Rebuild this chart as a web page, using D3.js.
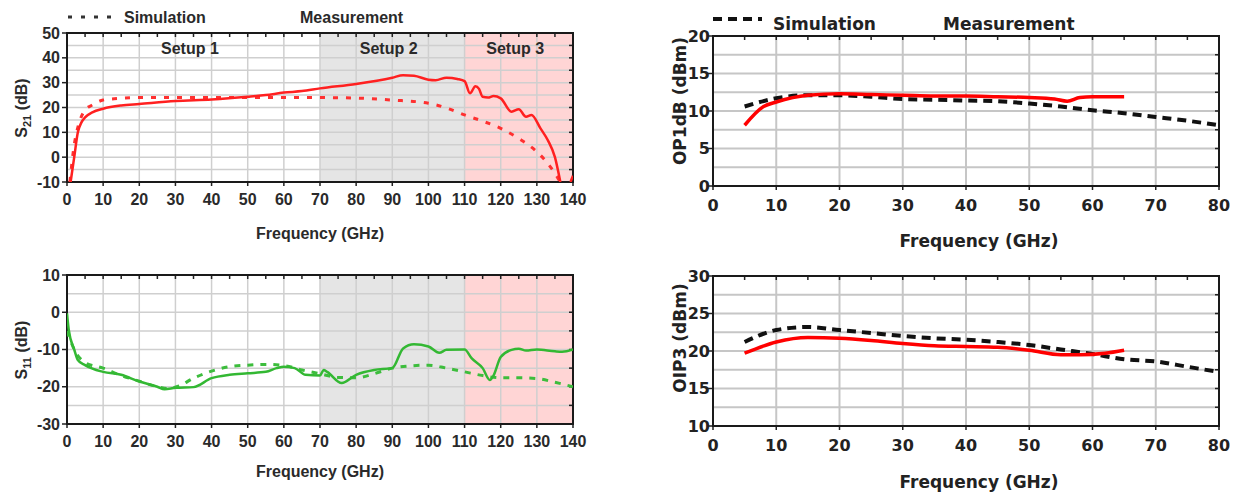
<!DOCTYPE html>
<html>
<head>
<meta charset="utf-8">
<script src="https://cdn.jsdelivr.net/npm/d3@7"></script>
<style>
body { margin: 0; background: #fff; }
.lf text { font-family: "Liberation Sans", Arial, sans-serif; font-weight: bold; fill: #2a2a2a; }
.rt text { font-family: "DejaVu Sans", Verdana, sans-serif; font-weight: bold; fill: #222; }
</style>
</head>
<body>
<svg id="chart" width="1242" height="493"></svg>
<script>
// ---- data ----
var leftFreqTicks = [0, 10, 20, 30, 40, 50, 60, 70, 80, 90, 100, 110, 120, 130, 140];
var rightFreqTicks = [0, 10, 20, 30, 40, 50, 60, 70, 80];
var s21Ticks = [-10, 0, 10, 20, 30, 40, 50];
var s11Ticks = [-30, -20, -10, 0, 10];
var op1Ticks = [0, 5, 10, 15, 20];
var oip3Ticks = [10, 15, 20, 25, 30];

var setupNames = ["Setup 1", "Setup 2", "Setup 3"];
var setupCentres = [34, 89, 124];
var setupBands = [[70, 110], [110, 140]];

// [GHz, dB]
var s21Meas = [[1,-10],[2,0],[3,10],[4,14],[5,16],[7,18],[10,19.5],[15,20.8],[20,21.4],[30,22.6],[40,23.2],
  [50,24.3],[55,25],[60,26],[65,26.6],[70,27.7],[80,29.5],[90,32],[93,33],[96,32.8],[100,31.2],[102,31],
  [105,32],[108,31.5],[110,30.6],[111.5,25.7],[113,28.6],[114,27.5],[115,24.3],[116.5,24],[118,24.6],
  [120,23.7],[123,18.3],[125,19.3],[127,16.3],[128.5,17],[131,11.6],[133,6.9],[135,0],[136.5,-10]];
var s21MeasEdge = [[139.3,-10],[140,-7.5]];
var s21Sim = [[0.8,-10],[2,5],[3,12],[5,19],[7,21],[10,23],[15,23.7],[20,24],[40,24],[60,24],[70,24],
  [80,23.8],[90,23],[100,21.7],[105,19.8],[110,17],[115,14.5],[120,11.6],[125,7.5],[130,2.2],[133,-2.5],
  [135,-6.5],[136.5,-10]];

var s11Meas = [[0,-0.3],[0.5,-4.8],[2,-10],[3,-12.8],[5,-14.2],[10,-16],[15,-16.8],[20,-18.6],[25,-20],
  [27,-20.7],[30,-20.3],[35,-20.1],[40,-17.7],[45,-16.8],[50,-16.4],[55,-16],[58,-15],[60,-14.6],[63,-15],
  [66,-16.8],[70,-17],[71,-15.5],[72,-16],[76,-19],[80,-16.8],[85,-15.5],[90,-15],[93,-9.7],[96,-8.6],
  [100,-9.2],[103,-10.9],[105,-10.1],[110,-10],[112,-12.4],[115,-15],[117,-18.2],[118,-17],[120,-12],
  [123,-10.1],[125,-9.8],[127,-10.3],[130,-10],[135,-10.5],[137,-10.6],[140,-10]];
var s11Sim = [[0,-5],[2,-10],[5,-13.5],[10,-15],[15,-17],[20,-18.5],[25,-20],[28,-20.5],[31,-19.8],
  [35,-17.7],[40,-15.8],[45,-14.6],[50,-14.2],[55,-14],[60,-14.3],[65,-15.5],[70,-16.5],[75,-17.5],
  [80,-17.6],[85,-16.5],[90,-15],[95,-14.4],[100,-14.2],[105,-15],[110,-16],[115,-17],[120,-17.6],
  [125,-17.6],[130,-17.8],[135,-18.8],[140,-20]];

// [GHz, dBm]
var op1Meas = [[5,8.1],[8,10.6],[10,11.2],[15,12.1],[20,12.3],[25,12.2],[30,12.1],[35,12],[40,12],
  [45,11.9],[50,11.8],[54,11.6],[56,11.3],[58,11.8],[60,11.9],[65,11.9]];
var op1Sim = [[5,10.6],[10,11.7],[15,12.1],[20,12.1],[25,11.9],[30,11.6],[35,11.5],[40,11.4],[45,11.3],
  [50,11],[55,10.6],[60,10.1],[65,9.7],[70,9.2],[75,8.7],[80,8.1]];
var oip3Meas = [[5,19.7],[10,21.2],[15,21.8],[20,21.7],[25,21.4],[30,21],[35,20.7],[40,20.6],[45,20.5],
  [50,20.1],[55,19.5],[58,19.5],[62,19.7],[65,20.1]];
var oip3Sim = [[5,21.2],[10,22.8],[15,23.2],[20,22.8],[25,22.4],[30,22],[35,21.7],[40,21.5],[45,21.2],
  [50,20.8],[55,20.2],[60,19.6],[65,18.9],[70,18.6],[75,17.9],[80,17.2]];

var svg = d3.select("#chart");
var clipId = 0;

// draw one framed panel, returns the scales
function panel(o) {
  var x = d3.scaleLinear().domain(o.xDomain).range([o.left, o.right]);
  var y = d3.scaleLinear().domain(o.yDomain).range([o.bottom, o.top]);
  var g = svg.append("g").attr("class", o.cls);

  (o.bands || []).forEach(function(b) {
    g.append("rect")
      .attr("x", x(b[0])).attr("y", o.top)
      .attr("width", x(b[1]) - x(b[0])).attr("height", o.bottom - o.top)
      .attr("fill", b[2]);
  });

  // grid
  var xg = d3.range(o.xDomain[0], o.xDomain[1] + 0.01, o.xGridStep);
  var yg = d3.range(o.yDomain[0], o.yDomain[1] + 0.01, o.yGridStep);
  g.selectAll(".vg").data(xg).enter().append("line")
    .attr("x1", d => x(d)).attr("x2", d => x(d))
    .attr("y1", o.top).attr("y2", o.bottom)
    .attr("stroke", o.gridColor).attr("stroke-width", o.gridWidth);
  g.selectAll(".hg").data(yg).enter().append("line")
    .attr("x1", o.left).attr("x2", o.right)
    .attr("y1", d => y(d)).attr("y2", d => y(d))
    .attr("stroke", o.gridColor).attr("stroke-width", o.gridWidth);

  // small tick marks
  var xm = d3.range(o.xDomain[0], o.xDomain[1] + 0.01, o.xMinor);
  g.selectAll(".tt").data(xm).enter().append("line")
    .attr("x1", d => x(d)).attr("x2", d => x(d))
    .attr("y1", o.top).attr("y2", o.top + 4)
    .attr("stroke", "#222").attr("stroke-width", 1.5);
  g.selectAll(".bt").data(o.xTicks).enter().append("line")
    .attr("x1", d => x(d)).attr("x2", d => x(d))
    .attr("y1", o.bottom).attr("y2", o.bottom + 4)
    .attr("stroke", "#222").attr("stroke-width", 1.5);
  g.selectAll(".lt").data(o.yTicks).enter().append("line")
    .attr("x1", o.left - 5).attr("x2", o.left)
    .attr("y1", d => y(d)).attr("y2", d => y(d))
    .attr("stroke", "#222").attr("stroke-width", 1.5);
  g.selectAll(".rtk").data(yg).enter().append("line")
    .attr("x1", o.right - 4).attr("x2", o.right)
    .attr("y1", d => y(d)).attr("y2", d => y(d))
    .attr("stroke", "#222").attr("stroke-width", 1.5);

  // frame
  g.append("rect")
    .attr("x", o.left).attr("y", o.top)
    .attr("width", o.right - o.left).attr("height", o.bottom - o.top)
    .attr("fill", "none").attr("stroke", "#1a1a1a").attr("stroke-width", 2);

  // tick labels
  g.selectAll(".xl").data(o.xTicks).enter().append("text")
    .attr("x", d => x(d)).attr("y", o.bottom + o.xLabelGap)
    .attr("text-anchor", "middle").style("font-size", o.tickSize + "px")
    .text(d => d);
  g.selectAll(".yl").data(o.yTicks).enter().append("text")
    .attr("x", o.left - o.yLabelGap).attr("y", d => y(d))
    .attr("dy", "0.35em").attr("text-anchor", "end").style("font-size", o.tickSize + "px")
    .text(d => d);

  g.append("text")
    .attr("x", o.xTitleX).attr("y", o.xTitleY)
    .attr("text-anchor", "middle").style("font-size", o.titleSize + "px")
    .text("Frequency (GHz)");

  // clip for the curves
  clipId++;
  svg.append("clipPath").attr("id", "clip" + clipId).append("rect")
    .attr("x", o.left).attr("y", o.top - 2)
    .attr("width", o.right - o.left).attr("height", o.bottom - o.top + 2);

  var lines = g.append("g").attr("clip-path", "url(#clip" + clipId + ")");
  var line = d3.line().x(d => x(d[0])).y(d => y(d[1])).curve(d3.curveMonotoneX);
  o.series.forEach(function(s) {
    lines.append("path").datum(s.data)
      .attr("d", line).attr("fill", "none")
      .attr("stroke", s.color).attr("stroke-width", s.width)
      .attr("stroke-dasharray", s.dash || null)
      .attr("stroke-linejoin", "round");
  });

  return { g: g, x: x, y: y };
}

var leftBase = {
  cls: "lf", xDomain: [0, 140], left: 67, right: 573,
  xGridStep: 10, yGridStep: 5, xMinor: 5, xTicks: leftFreqTicks,
  gridColor: "#cfcfcf", gridWidth: 1.5, tickSize: 16, titleSize: 16,
  xLabelGap: 23, yLabelGap: 7, xTitleX: 320,
  bands: [[setupBands[0][0], setupBands[0][1], "#e5e5e5"], [setupBands[1][0], setupBands[1][1], "#ffd5d5"]]
};
var rightBase = {
  cls: "rt", xDomain: [0, 80], left: 713, right: 1219,
  xGridStep: 10, yGridStep: 2.5, xMinor: 5, xTicks: rightFreqTicks,
  gridColor: "#c6c6c6", gridWidth: 2, tickSize: 16, titleSize: 17,
  xLabelGap: 25, yLabelGap: 3, xTitleX: 979
};

// S21
var p1 = panel(Object.assign({}, leftBase, {
  top: 33, bottom: 182, yDomain: [-10, 50], yTicks: s21Ticks, xTitleY: 239,
  series: [
    { data: s21Sim, color: "#ff3030", width: 3, dash: "5,8" },
    { data: s21Meas, color: "#ff2020", width: 2.5 },
    { data: s21MeasEdge, color: "#ff2020", width: 2.5 }
  ]
}));
p1.g.selectAll(".setup").data(setupNames).enter().append("text")
  .attr("x", (d, i) => p1.x(setupCentres[i])).attr("y", 54)
  .attr("text-anchor", "middle").style("font-size", "16px")
  .text(d => d);

// S11
var p2 = panel(Object.assign({}, leftBase, {
  top: 275, bottom: 424, yDomain: [-30, 10], yTicks: s11Ticks, xTitleY: 477,
  series: [
    { data: s11Sim, color: "#3dbd3d", width: 3, dash: "6,7" },
    { data: s11Meas, color: "#33b833", width: 2.5 }
  ]
}));

// OP1dB
var p3 = panel(Object.assign({}, rightBase, {
  top: 36, bottom: 186, yDomain: [0, 20], yTicks: op1Ticks, xTitleY: 247,
  series: [
    { data: op1Sim, color: "#111", width: 4, dash: "9,6" },
    { data: op1Meas, color: "#ff0000", width: 3.5 }
  ]
}));

// OIP3
var p4 = panel(Object.assign({}, rightBase, {
  top: 276, bottom: 426, yDomain: [10, 30], yTicks: oip3Ticks, xTitleY: 488,
  series: [
    { data: oip3Sim, color: "#111", width: 4, dash: "9,6" },
    { data: oip3Meas, color: "#ff0000", width: 3.5 }
  ]
}));

// y-axis titles
var yt1 = p1.g.append("text").attr("transform", "translate(27,108) rotate(-90)")
  .attr("text-anchor", "middle").style("font-size", "16px");
yt1.append("tspan").text("S");
yt1.append("tspan").attr("dy", 4).style("font-size", "11px").text("21");
yt1.append("tspan").attr("dy", -4).text(" (dB)");

var yt2 = p2.g.append("text").attr("transform", "translate(27,350) rotate(-90)")
  .attr("text-anchor", "middle").style("font-size", "16px");
yt2.append("tspan").text("S");
yt2.append("tspan").attr("dy", 4).style("font-size", "11px").text("11");
yt2.append("tspan").attr("dy", -4).text(" (dB)");

p3.g.append("text").attr("transform", "translate(686,101) rotate(-90)")
  .attr("text-anchor", "middle").style("font-size", "17px").text("OP1dB (dBm)");
p4.g.append("text").attr("transform", "translate(686,338) rotate(-90)")
  .attr("text-anchor", "middle").style("font-size", "17px").text("OIP3 (dBm)");

// legends
var lg1 = svg.append("g").attr("class", "lf");
lg1.append("line").attr("x1", 68).attr("x2", 116).attr("y1", 17).attr("y2", 17)
  .attr("stroke", "#333").attr("stroke-width", 3).attr("stroke-dasharray", "4,9");
lg1.append("text").attr("x", 124).attr("y", 23).style("font-size", "16px").text("Simulation");
lg1.append("text").attr("x", 300).attr("y", 23).style("font-size", "16px").text("Measurement");

var lg2 = svg.append("g").attr("class", "rt");
lg2.append("line").attr("x1", 713).attr("x2", 762).attr("y1", 19).attr("y2", 19)
  .attr("stroke", "#111").attr("stroke-width", 4).attr("stroke-dasharray", "9,6");
lg2.append("text").attr("x", 773).attr("y", 30).style("font-size", "17px").text("Simulation");
lg2.append("text").attr("x", 943).attr("y", 30).style("font-size", "17px").text("Measurement");
</script>
</body>
</html>
